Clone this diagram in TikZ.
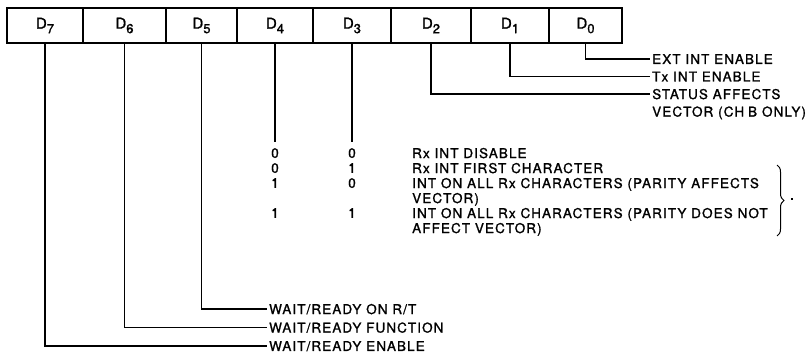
\documentclass[tikz,border=0pt]{standalone}
\usepackage{fontspec}
\setmainfont[LetterSpace=8, FakeBold=1.2]{TeX Gyre Heros}
\usetikzlibrary{decorations.pathreplacing}

\newcommand{\bitname}[1]{D\raisebox{-4.5pt}{\fontsize{13}{13}\selectfont #1}}

\begin{document}
\begin{tikzpicture}[
	x=1pt, y=-1pt,
	font=\fontsize{13.5}{14}\selectfont,
	bitcell/.style={ draw, line width=1.3pt, minimum height=35pt, inner sep=0pt },
	wire/.style={ line width=1.1pt },
	caption/.style={ anchor=west, inner sep=2pt, text depth=0pt },
	value/.style={ inner sep=0pt, text depth=0pt }
]
\useasboundingbox (0,0) rectangle (810,356);

\foreach \n/\c/\w in {7/45/76, 6/124.5/83, 5/201.5/71, 4/275/76, 3/352/78, 2/431/80, 1/510/78, 0/585.5/73}
	\node at (\c,25.5) (d\n) [bitcell, minimum width=\w pt, font=\fontsize{15}{15}\selectfont] {\bitname{\n}};

\node at (650,59) (extint) [caption] {EXT INT ENABLE};
\node at (650,76.5) (txint) [caption] {Tx INT ENABLE};
\node at (650,94) (status) [caption] {STATUS AFFECTS};
\node at (650,111.5) (statusb) [caption] {VECTOR (CH\hspace{4pt}B ONLY)};

\node at (d4 |- 0,153) (fourzero) [value] {0};
\node at (d3 |- 0,153) (threezero) [value] {0};
\node at (d4 |- 0,168) (fourone) [value] {0};
\node at (d3 |- 0,168) (threeone) [value] {1};
\node at (d4 |- 0,183) (fourtwo) [value] {1};
\node at (d3 |- 0,183) (threetwo) [value] {0};
\node at (d4 |- 0,213) (fourthree) [value] {1};
\node at (d3 |- 0,213) (threethree) [value] {1};
\foreach \b/\v in {d4/fourzero, d3/threezero} \draw [wire, shorten >=6pt] (\b.south) to (\v.north);

\node at (410,153) (rxoff) [caption] {Rx INT DISABLE};
\node at (410,168) (rxfirst) [caption] {Rx INT FIRST CHARACTER};
\node at (410,183) (rxall) [caption] {INT ON ALL Rx CHARACTERS (PARITY AFFECTS};
\node at (410,198) (rxallb) [caption] {VECTOR)};
\node at (410,213) (rxnot) [caption] {INT ON ALL Rx CHARACTERS (PARITY DOES NOT};
\node at (410,228) (rxnotb) [caption] {AFFECT VECTOR)};
\draw [wire, line width=1pt, decorate, decoration={brace, amplitude=7pt}] (777,165) -- (777,236);
\node at (792,199) (period) [value, font=\fontsize{15}{15}\selectfont] {.};

\node at (267,309) (rtwait) [caption] {WAIT/READY ON R/T};
\node at (267,327.5) (function) [caption] {WAIT/READY FUNCTION};
\node at (267,346) (enable) [caption] {WAIT/READY ENABLE};

\foreach \b/\p in {d0/extint, d1/txint, d2/status, d5/rtwait, d6/function, d7/enable} \draw [wire] (\b.south) |- (\p.west);

\end{tikzpicture}
\end{document}
